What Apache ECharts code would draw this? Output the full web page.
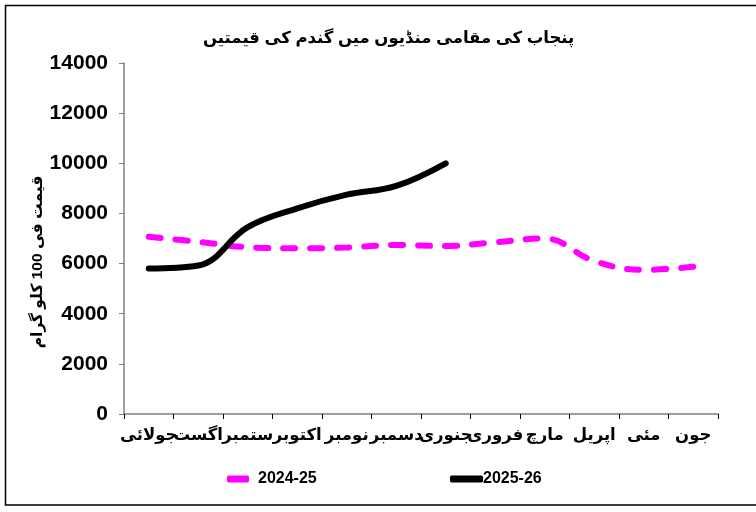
<!DOCTYPE html>
<html>
<head>
<meta charset="utf-8">
<script src="https://cdn.jsdelivr.net/npm/echarts@6/dist/echarts.min.js"></script>
<style>
html,body{margin:0;padding:0;background:#fff;}
#c{width:756px;height:512px;}
</style>
</head>
<body>
<div id="c"></div>
<script>
var months = ['جولائی','اگست','ستمبر','اکتوبر','نومبر','دسمبر','جنوری','فروری','مارچ','اپریل','مئی','جون'];
var s2425 = [7070, 6870, 6650, 6610, 6640, 6740, 6700, 6850, 7000, 6100, 5750, 5870];
var s2526 = [5800, 5920, 7450, 8200, 8750, 9100, 10000];
var yTicks = [0, 2000, 4000, 6000, 8000, 10000, 12000, 14000];
var titleText = 'پنجاب کی مقامی منڈیوں میں گندم کی قیمتیں';
var yName = 'قیمت فی 100 کلو گرام';
var seriesNames = ['2024-25', '2025-26'];

var FONT = 'Arial, "Liberation Sans", "DejaVu Sans", sans-serif';
var chart = echarts.init(document.getElementById('c'));
chart.setOption({
  animation: false,
  backgroundColor: '#fff',
  title: {
    text: titleText, left: 198, top: 25,
    textStyle: {fontFamily: FONT, fontSize: 16.5, fontWeight: 'bold', color: '#000'}
  },
  graphic: [
    {type: 'rect', shape: {x: 5.5, y: 5.5, width: 760, height: 499.5},
     style: {fill: 'none', stroke: '#000', lineWidth: 1.5}, silent: true},
    {type: 'text', x: 38, y: 262, rotation: Math.PI / 2,
     style: {text: yName, fontFamily: FONT, fontSize: 15.5, fontWeight: 'bold', fill: '#000',
             align: 'center', verticalAlign: 'middle'}}
  ],
  legend: [
    {data: [seriesNames[0]], left: 222, top: 466, itemWidth: 22, itemHeight: 7, itemGap: 12,
     icon: 'roundRect',
     textStyle: {fontFamily: FONT, fontSize: 16, fontWeight: 'bold', color: '#000', padding: [0,0,0,4]}},
    {data: [seriesNames[1]], left: 445, top: 466, itemWidth: 33, itemHeight: 7, itemGap: 2,
     icon: 'roundRect',
     textStyle: {fontFamily: FONT, fontSize: 16, fontWeight: 'bold', color: '#000', padding: [0,0,0,-5]}}
  ],
  grid: {left: 124, right: 38, top: 63, bottom: 98, containLabel: false},
  xAxis: {
    type: 'category', data: months, boundaryGap: true,
    axisLine: {lineStyle: {color: '#808080', width: 1.5}},
    axisTick: {show: true, length: 5, lineStyle: {color: '#000'}},
    axisLabel: {fontFamily: FONT, fontSize: 16.5, fontWeight: 'bold', color: '#000', margin: 13, interval: 0}
  },
  yAxis: {
    type: 'value', min: 0, max: 14000, interval: 2000,
    axisLine: {show: true, lineStyle: {color: '#808080', width: 1.5}},
    axisTick: {show: true, length: 5, lineStyle: {color: '#808080'}},
    splitLine: {show: false},
    axisLabel: {fontFamily: FONT, fontSize: 21, fontWeight: 'bold', color: '#000', margin: 16,
      formatter: function (v) { return yTicks.indexOf(v) >= 0 ? String(v) : ''; }}
  },
  series: [
    {name: seriesNames[0], type: 'line', data: s2425, smooth: 0.4, showSymbol: false,
     itemStyle: {color: '#ff00ff'},
     lineStyle: {color: '#ff00ff', width: 6, type: [12, 15], cap: 'round'}},
    {name: seriesNames[1], type: 'line', data: s2526, smooth: 0.4, showSymbol: false,
     itemStyle: {color: '#000'},
     lineStyle: {color: '#000', width: 6, cap: 'round'}}
  ]
});
</script>
</body>
</html>
